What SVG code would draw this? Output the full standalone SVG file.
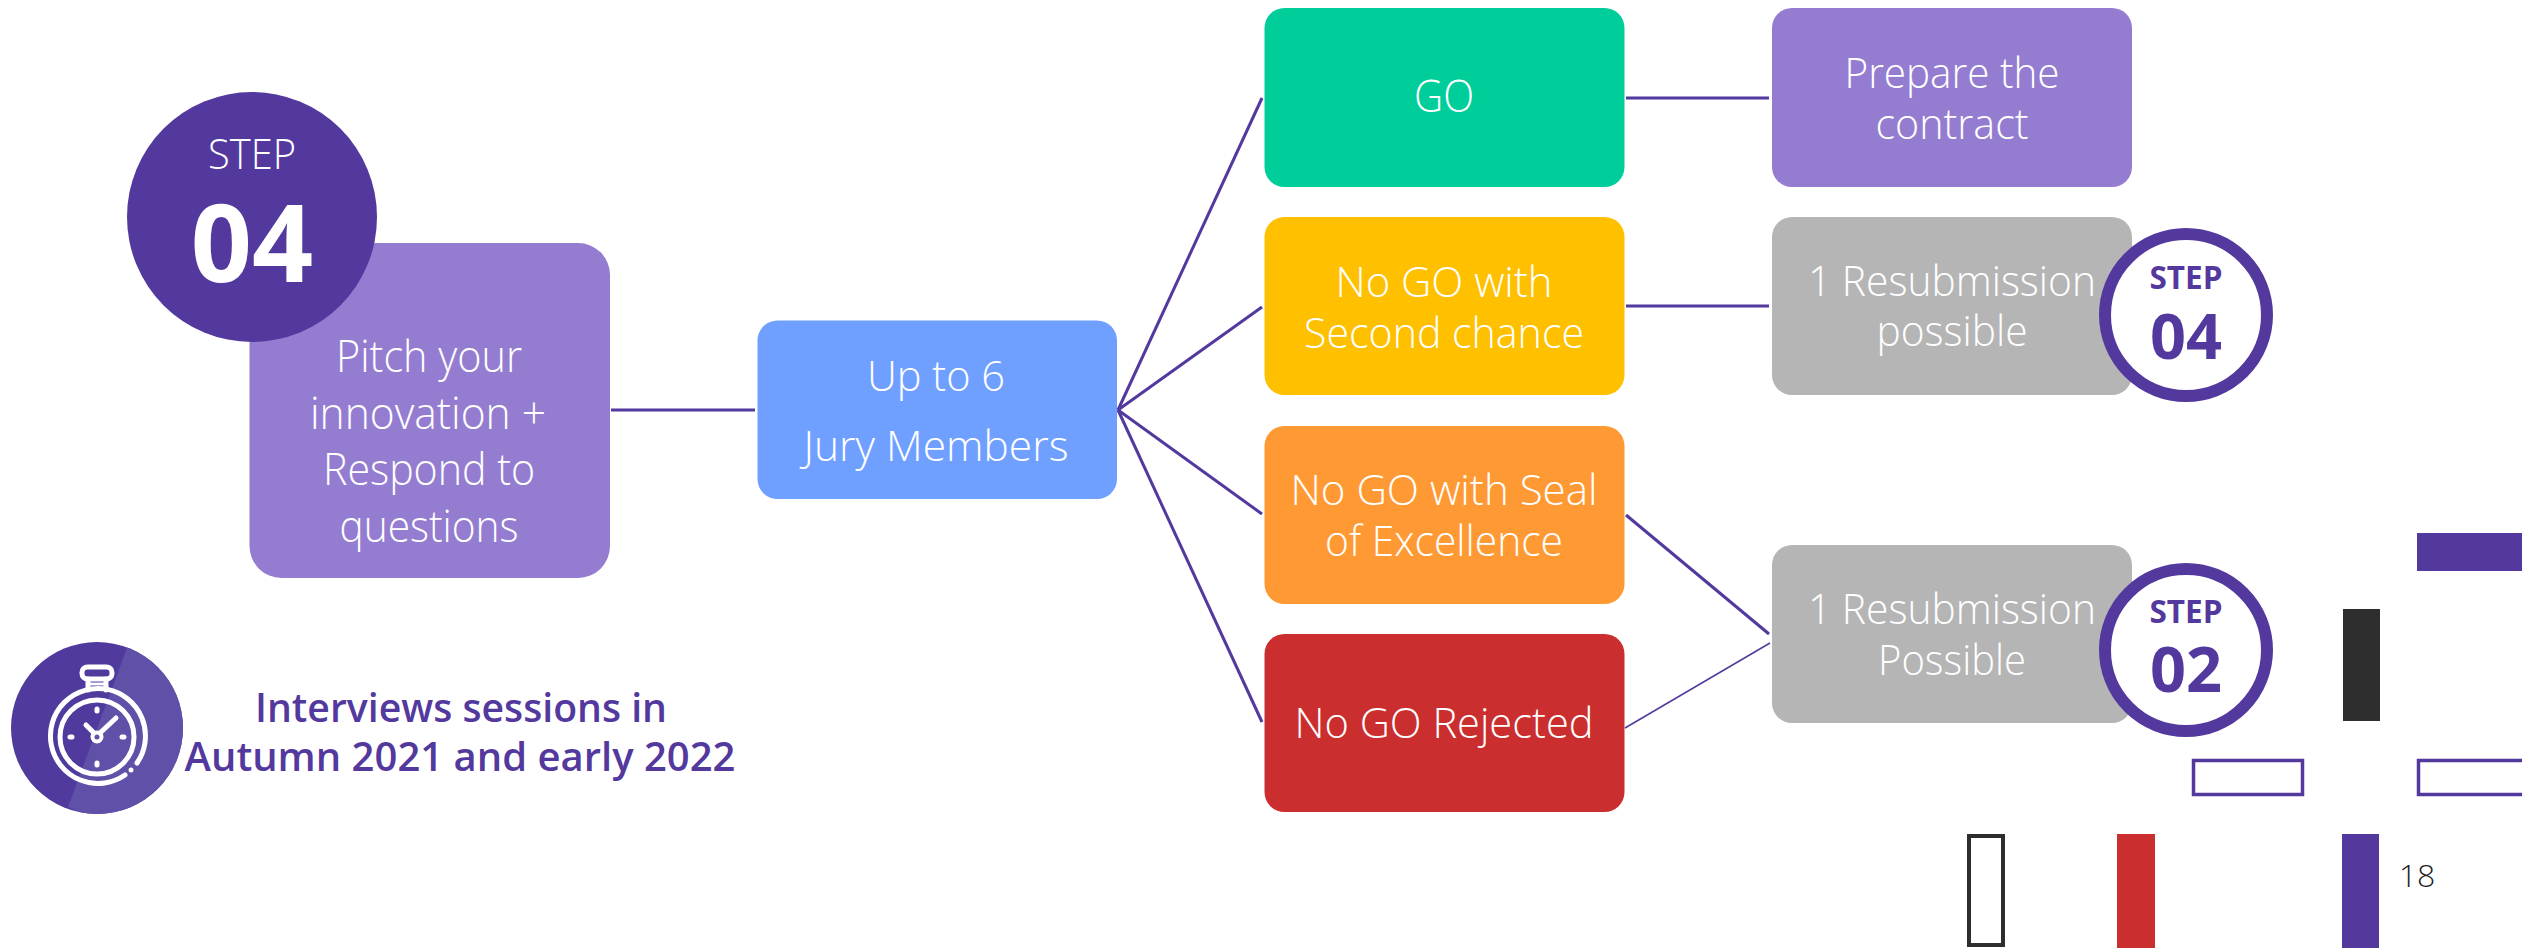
<svg xmlns="http://www.w3.org/2000/svg" width="2522" height="948" viewBox="0 0 2522 948">
<defs>
<style>
text{font-family:"Open Sans","Noto Sans","Liberation Sans",sans-serif;text-anchor:middle}
.l{font-size:42px;font-weight:300;fill:#fff}
.lk{font-size:44px}
.i{font-size:40px;font-weight:600;fill:#53399E}
.s{font-weight:700;fill:#53399E}
.c{fill:none;stroke:#53399E;stroke-width:3}
.ic{fill:none;stroke:#fff;stroke-width:5;stroke-linecap:round}
</style>
<clipPath id="iconClip"><circle cx="97" cy="728" r="86"/></clipPath>
</defs>
<rect width="2522" height="948" fill="#fff"/>
<g id="connectors">
<line class="c" x1="611" y1="410" x2="755" y2="410"/>
<line class="c" x1="1118" y1="410" x2="1262" y2="98"/>
<line class="c" x1="1118" y1="410" x2="1262" y2="307"/>
<line class="c" x1="1118" y1="410" x2="1262" y2="514"/>
<line class="c" x1="1118" y1="410" x2="1262" y2="722"/>
<line class="c" x1="1626" y1="98" x2="1769" y2="98"/>
<line class="c" x1="1626" y1="306" x2="1769" y2="306"/>
<line class="c" x1="1626" y1="515" x2="1769" y2="634"/>
<line class="c" style="stroke-width:1.5" x1="1625" y1="728" x2="1770" y2="643"/>
</g>
<g id="pitch">
<rect x="249.500" y="243" width="360.500" height="335" rx="32" fill="#947DD0"/>
<text class="l lk" x="429" y="372" textLength="186" lengthAdjust="spacingAndGlyphs">Pitch your</text>
<text class="l lk" x="428" y="429" textLength="236" lengthAdjust="spacingAndGlyphs">innovation +</text>
<text class="l lk" x="429" y="485" textLength="212" lengthAdjust="spacingAndGlyphs">Respond to</text>
<text class="l lk" x="429" y="542" textLength="179" lengthAdjust="spacingAndGlyphs">questions</text>
</g>
<g id="step-main">
<circle cx="252" cy="217" r="125" fill="#53399E"/>
<text x="252" y="169" font-size="43" font-weight="300" fill="#fff" textLength="88" lengthAdjust="spacingAndGlyphs">STEP</text>
<text x="252" y="282" font-size="107" font-weight="700" fill="#fff">04</text>
</g>
<g id="jury">
<rect x="757.500" y="320.500" width="359.500" height="178.500" rx="20" fill="#70A0FF"/>
<text class="l" x="936" y="391" textLength="138" lengthAdjust="spacingAndGlyphs">Up to 6</text>
<text class="l" x="936" y="461" textLength="265" lengthAdjust="spacingAndGlyphs">Jury Members</text>
</g>
<g id="go">
<rect x="1264.500" y="8" width="360" height="179" rx="20" fill="#00CE9A"/>
<text class="l" x="1444" y="112" style="font-size:44px" textLength="60" lengthAdjust="spacingAndGlyphs">GO</text>
</g>
<g id="second-chance">
<rect x="1264.500" y="217" width="360" height="178" rx="20" fill="#FFC000"/>
<text class="l" x="1444" y="297" textLength="217" lengthAdjust="spacingAndGlyphs">No GO with</text>
<text class="l" x="1444" y="348" textLength="280" lengthAdjust="spacingAndGlyphs">Second chance</text>
</g>
<g id="seal">
<rect x="1264.500" y="426" width="360" height="178" rx="20" fill="#FF9933"/>
<text class="l" x="1444" y="505" textLength="307" lengthAdjust="spacingAndGlyphs">No GO with Seal</text>
<text class="l" x="1444" y="556" textLength="238" lengthAdjust="spacingAndGlyphs">of Excellence</text>
</g>
<g id="rejected">
<rect x="1264.500" y="634" width="360" height="178" rx="20" fill="#CB2E2E"/>
<text class="l" x="1444" y="738" textLength="299" lengthAdjust="spacingAndGlyphs">No GO Rejected</text>
</g>
<g id="contract">
<rect x="1772" y="8" width="360" height="179" rx="20" fill="#947DD0"/>
<text class="l" x="1952" y="88" textLength="215" lengthAdjust="spacingAndGlyphs">Prepare the</text>
<text class="l" x="1952" y="139" textLength="153" lengthAdjust="spacingAndGlyphs">contract</text>
</g>
<g id="resub-1">
<rect x="1772" y="217" width="360" height="178" rx="20" fill="#B5B5B5"/>
<text class="l" x="1952" y="296" textLength="288" lengthAdjust="spacingAndGlyphs">1 Resubmission</text>
<text class="l" x="1952" y="346" textLength="151" lengthAdjust="spacingAndGlyphs">possible</text>
</g>
<g id="resub-2">
<rect x="1772" y="545" width="360" height="178" rx="20" fill="#B5B5B5"/>
<text class="l" x="1952" y="624" textLength="288" lengthAdjust="spacingAndGlyphs">1 Resubmission</text>
<text class="l" x="1952" y="675" textLength="148" lengthAdjust="spacingAndGlyphs">Possible</text>
</g>
<g id="step-04">
<circle cx="2186" cy="315" r="81" fill="#fff" stroke="#53399E" stroke-width="12"/>
<text class="s" x="2186" y="289" font-size="32" textLength="73" lengthAdjust="spacingAndGlyphs">STEP</text>
<text class="s" x="2186" y="359" font-size="63">04</text>
</g>
<g id="step-02">
<circle cx="2186" cy="650" r="81" fill="#fff" stroke="#53399E" stroke-width="12"/>
<text class="s" x="2186" y="623" font-size="32" textLength="73" lengthAdjust="spacingAndGlyphs">STEP</text>
<text class="s" x="2186" y="692" font-size="63">02</text>
</g>
<g id="timer">
<circle cx="97" cy="728" r="86" fill="#513A9E"/>
<path d="M127 648L68 807L120 830L220 830L220 630L134 630Z" fill="#6050A8" clip-path="url(#iconClip)"/>
<rect class="ic" x="82" y="667" width="30" height="12" rx="5.5"/>
<path class="ic" d="M88 679V690M106 679V690"/>
<path class="ic" style="stroke-width:3" d="M88 684H106"/>
<path class="ic" d="M125 775A47.5 47.5 0 1 1 137 763"/>
<circle cx="131" cy="770" r="2.500" fill="#fff"/>
<circle class="ic" cx="97" cy="737" r="37"/>
<path class="ic" d="M97 709V711M97 763V765M70 737H72M122 737H124"/>
<circle class="ic" style="stroke-width:4" cx="97" cy="737" r="4.500"/>
<path class="ic" d="M94 733L86 725M100 733L116 718"/>
</g>
<g id="interview-text">
<text class="i" x="461" y="722" textLength="412" lengthAdjust="spacingAndGlyphs">Interviews sessions in</text>
<text class="i" x="460" y="771" textLength="551" lengthAdjust="spacingAndGlyphs">Autumn 2021 and early 2022</text>
</g>
<g id="legend-bars">
<rect x="2417" y="533" width="105" height="38" fill="#53399E"/>
<rect x="2343" y="609" width="37" height="112" fill="#2E2E2E"/>
<rect x="2193.500" y="760.500" width="109" height="34" fill="#fff" stroke="#53399E" stroke-width="3.500"/>
<rect x="2418.500" y="760.500" width="110" height="34" fill="#fff" stroke="#53399E" stroke-width="3.500"/>
<rect x="1969" y="836" width="34" height="109" fill="#fff" stroke="#2E2E2E" stroke-width="4"/>
<rect x="2117" y="834" width="38" height="114" fill="#CB2E2E"/>
<rect x="2342" y="834" width="37" height="114" fill="#53399E"/>
<text x="2417" y="887" font-size="32" font-weight="300" fill="#1E1E1E">18</text>
</g>
</svg>
